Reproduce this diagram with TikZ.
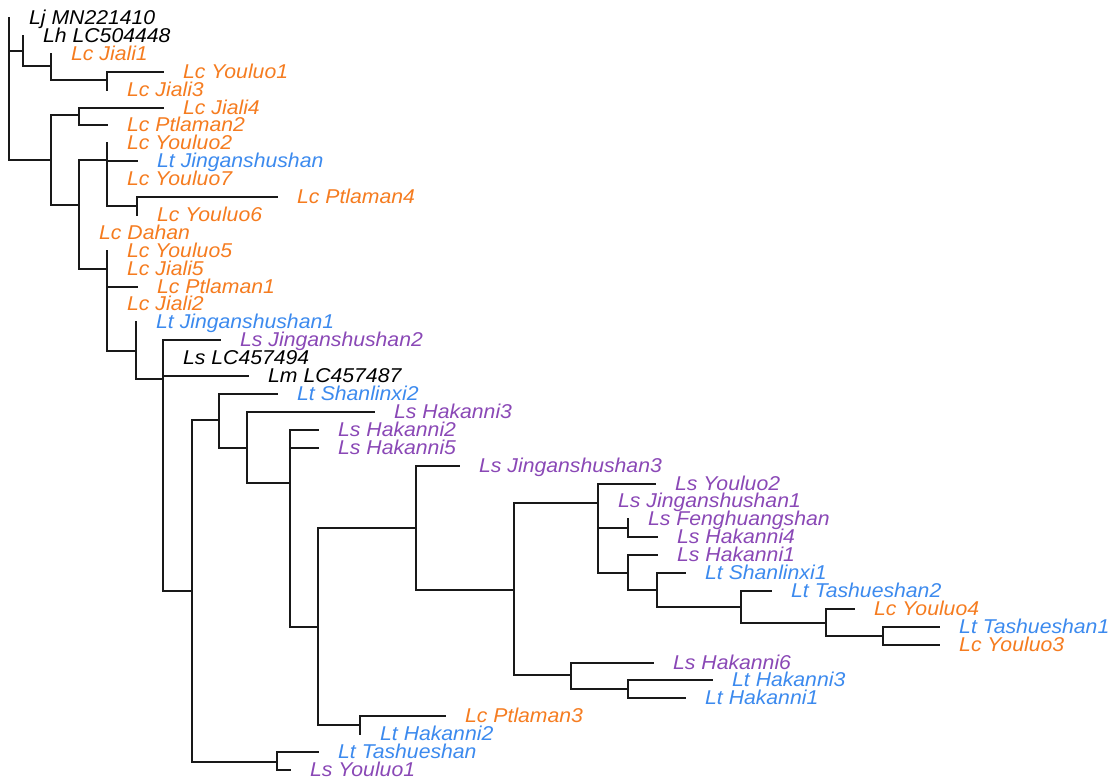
\documentclass[tikz,border=0pt]{standalone}
\usepackage{fontspec}
\setmainfont{Liberation Sans}[FakeStretch=1.06]
\definecolor{lc}{RGB}{245,124,32}
\definecolor{lt}{RGB}{60,138,238}
\definecolor{ls}{RGB}{138,72,182}
\tikzset{
  branch/.style={line width=1.6pt, black!90, line cap=rect},
  lab/.style={anchor=base west, inner sep=0pt, font=\fontsize{20}{24}\selectfont\itshape}
}
\newcommand{\mytip}[5]{%
  \coordinate (#1) at (#3,{round(18+(#2-1)*17.905)});
  \node[lab,text=#4] (#1l) at ([xshift=20pt,yshift=-6.7pt]#1) {#5};
}
\newcommand{\mkclade}[4]{%
  \draw[branch] (#1 |- #2) -- (#1 |- #3);
  \foreach \c in {#4} {\draw[branch] (#1 |- \c) -- (\c);}
}
\begin{document}
\begin{tikzpicture}[x=1pt,y=-1pt]
\useasboundingbox (0,0) rectangle (1113,783);
% tips
\mytip{t1}{1}{9}{black}{Lj MN221410}
\mytip{t2}{2}{23}{black}{Lh LC504448}
\mytip{t3}{3}{51}{lc}{Lc Jiali1}
\mytip{t4}{4}{163}{lc}{Lc Youluo1}
\mytip{t5}{5}{107}{lc}{Lc Jiali3}
\mytip{t6}{6}{163}{lc}{Lc Jiali4}
\mytip{t7}{7}{107}{lc}{Lc Ptlaman2}
\mytip{t8}{8}{107}{lc}{Lc Youluo2}
\mytip{t9}{9}{137}{lt}{Lt Jinganshushan}
\mytip{t10}{10}{107}{lc}{Lc Youluo7}
\mytip{t11}{11}{277}{lc}{Lc Ptlaman4}
\mytip{t12}{12}{137}{lc}{Lc Youluo6}
\mytip{t13}{13}{79}{lc}{Lc Dahan}
\mytip{t14}{14}{107}{lc}{Lc Youluo5}
\mytip{t15}{15}{107}{lc}{Lc Jiali5}
\mytip{t16}{16}{137}{lc}{Lc Ptlaman1}
\mytip{t17}{17}{107}{lc}{Lc Jiali2}
\mytip{t18}{18}{136}{lt}{Lt Jinganshushan1}
\mytip{t19}{19}{220}{ls}{Ls Jinganshushan2}
\mytip{t20}{20}{163}{black}{Ls LC457494}
\mytip{t21}{21}{248}{black}{Lm LC457487}
\mytip{t22}{22}{277}{lt}{Lt Shanlinxi2}
\mytip{t23}{23}{374}{ls}{Ls Hakanni3}
\mytip{t24}{24}{318}{ls}{Ls Hakanni2}
\mytip{t25}{25}{318}{ls}{Ls Hakanni5}
\mytip{t26}{26}{459}{ls}{Ls Jinganshushan3}
\mytip{t27}{27}{655}{ls}{Ls Youluo2}
\mytip{t28}{28}{598}{ls}{Ls Jinganshushan1}
\mytip{t29}{29}{628}{ls}{Ls Fenghuangshan}
\mytip{t30}{30}{657}{ls}{Ls Hakanni4}
\mytip{t31}{31}{657}{ls}{Ls Hakanni1}
\mytip{t32}{32}{685}{lt}{Lt Shanlinxi1}
\mytip{t33}{33}{771}{lt}{Lt Tashueshan2}
\mytip{t34}{34}{854}{lc}{Lc Youluo4}
\mytip{t35}{35}{939}{lt}{Lt Tashueshan1}
\mytip{t36}{36}{939}{lc}{Lc Youluo3}
\mytip{t37}{37}{653}{ls}{Ls Hakanni6}
\mytip{t38}{38}{712}{lt}{Lt Hakanni3}
\mytip{t39}{39}{685}{lt}{Lt Hakanni1}
\mytip{t40}{40}{445}{lc}{Lc Ptlaman3}
\mytip{t41}{41}{360}{lt}{Lt Hakanni2}
\mytip{t42}{42}{318}{lt}{Lt Tashueshan}
\mytip{t43}{43}{290}{ls}{Ls Youluo1}
% internal nodes
\coordinate (root) at (9,89);
\coordinate (A) at (23,51);
\coordinate (A2) at (51,66);
\coordinate (A3) at (107,80);
\coordinate (B) at (51,160);
\coordinate (B1) at (79,115);
\coordinate (C) at (79,205);
\coordinate (D) at (107,160);
\coordinate (E) at (137,206);
\coordinate (F) at (107,269);
\coordinate (G) at (136,351);
\coordinate (H) at (163,379);
\coordinate (I) at (192,591);
\coordinate (J) at (219,420);
\coordinate (L) at (247,448);
\coordinate (M) at (290,483);
\coordinate (N) at (318,627);
\coordinate (O) at (416,528);
\coordinate (Q) at (514,590);
\coordinate (R) at (598,503);
\coordinate (S) at (628,528);
\coordinate (T) at (628,573);
\coordinate (U) at (657,590);
\coordinate (V) at (741,607);
\coordinate (W) at (826,623);
\coordinate (X) at (883,636);
\coordinate (Y) at (571,675);
\coordinate (Z) at (628,689);
\coordinate (P) at (360,725);
\coordinate (K) at (277,762);
% branches
\mkclade{root}{t1}{B}{A,B}
\mkclade{A}{t2}{A2}{A2}
\mkclade{A2}{t3}{A3}{A3}
\mkclade{A3}{t4}{t5}{t4}
\mkclade{B}{B1}{C}{B1,C}
\mkclade{B1}{t6}{t7}{t6,t7}
\mkclade{C}{D}{F}{D,F}
\mkclade{D}{t8}{E}{t9,E}
\mkclade{E}{t11}{t12}{t11}
\mkclade{F}{t14}{G}{t16,G}
\mkclade{G}{t18}{H}{H}
\mkclade{H}{t19}{I}{t19,t21,I}
\mkclade{I}{J}{K}{J,K}
\mkclade{J}{t22}{L}{t22,L}
\mkclade{L}{t23}{M}{t23,M}
\mkclade{M}{t24}{N}{t24,t25,N}
\mkclade{N}{O}{P}{O,P}
\mkclade{O}{t26}{Q}{t26,Q}
\mkclade{Q}{R}{Y}{R,Y}
\mkclade{R}{t27}{T}{t27,S,T}
\mkclade{S}{t29}{t30}{t30}
\mkclade{T}{t31}{U}{t31,U}
\mkclade{U}{t32}{V}{t32,V}
\mkclade{V}{t33}{W}{t33,W}
\mkclade{W}{t34}{X}{t34,X}
\mkclade{X}{t35}{t36}{t35,t36}
\mkclade{Y}{t37}{Z}{t37,Z}
\mkclade{Z}{t38}{t39}{t38,t39}
\mkclade{P}{t40}{t41}{t40}
\mkclade{K}{t42}{t43}{t42,t43}
\end{tikzpicture}
\end{document}
